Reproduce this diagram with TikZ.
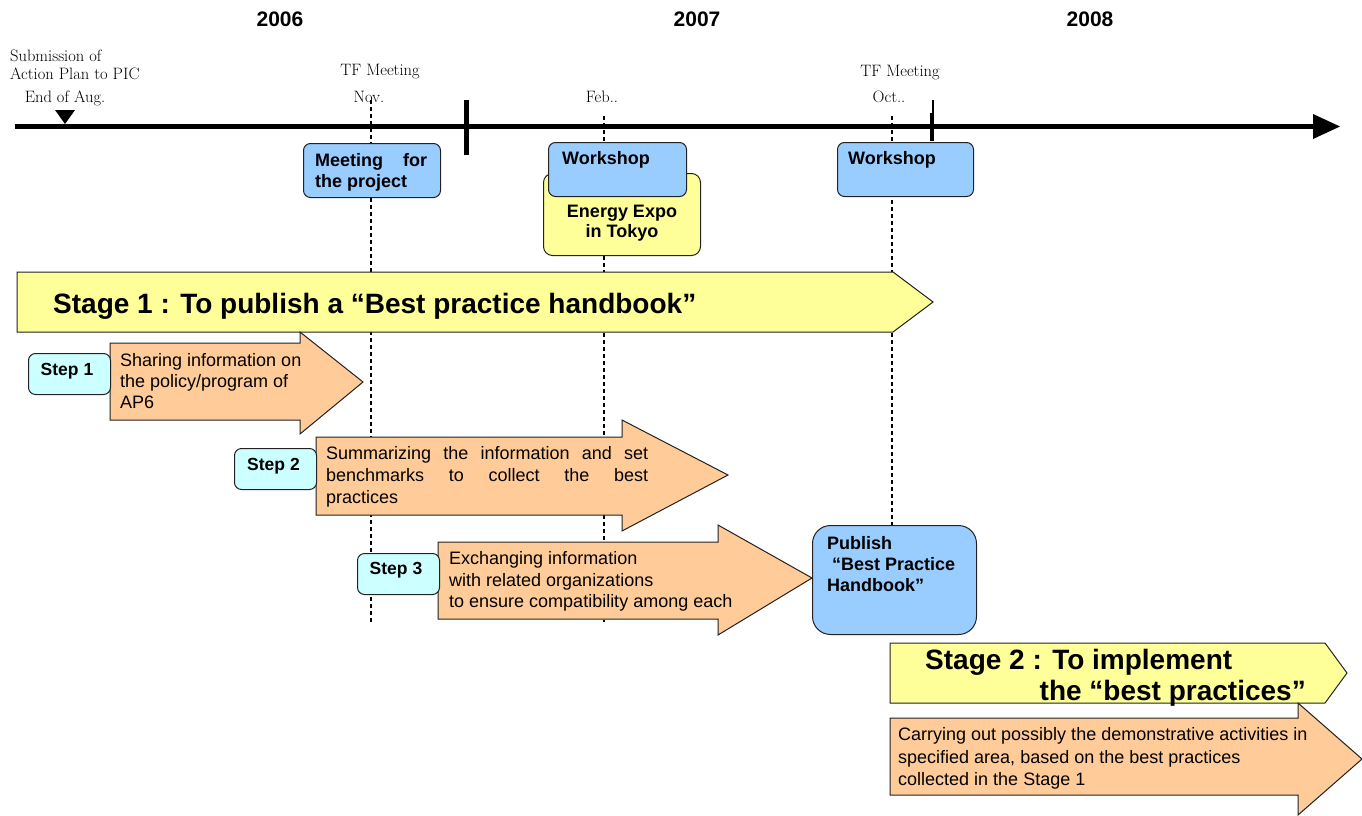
\documentclass[tikz,border=0pt]{standalone}
\usepackage{fontspec}
\newfontfamily\af{Liberation Sans}
\definecolor{bluebox}{HTML}{99CCFF}
\definecolor{yelbox}{HTML}{FFFF99}
\definecolor{orabox}{HTML}{FFCC99}
\definecolor{cyabox}{HTML}{CCFFFF}
\definecolor{edge}{HTML}{222222}
\begin{document}
\begin{tikzpicture}[x=1pt,y=-1pt,
  box/.style={draw=edge, line width=1pt, rounded corners=7pt, inner sep=0pt, anchor=north west},
  shp/.style={draw=edge, line width=1pt},
  tfline/.style={line width=2pt, dash pattern=on 4pt off 3pt},
  lbl/.style={inner sep=0pt, anchor=base, font=\fontsize{16.5}{19}\selectfont},
  lbll/.style={inner sep=0pt, anchor=base west, font=\fontsize{16.5}{19}\selectfont},
  yr/.style={inner sep=0pt, anchor=base, font=\af\bfseries\fontsize{21}{24}\selectfont},
  bt/.style={inner sep=0pt, anchor=base west, font=\af\bfseries\fontsize{18}{21}\selectfont},
  btc/.style={inner sep=0pt, anchor=base, font=\af\bfseries\fontsize{18}{21}\selectfont},
  nt/.style={inner sep=0pt, anchor=base west, font=\af\fontsize{18}{21}\selectfont},
  st/.style={inner sep=0pt, anchor=base west, font=\af\bfseries\fontsize{28}{32}\selectfont},
  stepl/.style={inner sep=0pt, anchor=base, font=\af\bfseries\fontsize{17.5}{20}\selectfont}]
\useasboundingbox (0,0) rectangle (1362,816);

% years
\node[yr] (y6) at (280,27) {2006};
\node[yr] (y7) at (697,27) {2007};
\node[yr] (y8) at (1090,27) {2008};

% serif labels
\node[lbll] (sub1) at (10,61.5) {Submission of};
\node[lbll] (sub2) at (10,79) {Action Plan to PIC};
\node[lbl] (aug) at (65,102) {End of Aug.};
\node[lbl] (tf1) at (380,75) {TF Meeting};
\node[lbl] (nov) at (369,102) {Nov.};
\node[lbl] (feb) at (602,102) {Feb..};
\node[lbl] (tf2) at (900,76) {TF Meeting};
\node[lbl] (oct) at (889,102) {Oct..};

% dashed month lines
\coordinate (novT) at (371,100); \coordinate (novB) at (371,622);
\coordinate (febT) at (604,116); \coordinate (febB) at (604,622);
\coordinate (octT) at (891.5,116); \coordinate (octB) at (891.5,525);
\draw[tfline] (novT) -- (novB);
\draw[tfline] (febT) -- (febB);
\draw[tfline] (octT) -- (octB);

% timeline
\coordinate (tlA) at (15,126.5); \coordinate (tlB) at (1316,126.5);
\draw[line width=5pt] (tlA) -- (tlB);
\fill (1313,114) -- (1340,126.5) -- (1313,139) -- cycle;
\fill (55,110) -- (75,110) -- (65,124) -- cycle;
\draw[line width=4.5pt] (466.5,100) -- (466.5,155);
\draw[line width=1.5pt] (933,100) -- (933,115);
\draw[line width=4.5pt] (932,113) -- (932,141);

% Stage 1 arrow
\draw[shp, fill=yelbox] (17,272) -- (893,272) -- (933,302) -- (893,332) -- (17,332) -- cycle;
\node[st] (st1) at (53,313) {Stage 1 : To publish a “Best practice handbook”};

% Step 1
\draw[shp, fill=orabox] (110,343) -- (300,343) -- (300,332) -- (363,382) -- (300,434) -- (300,420) -- (110,420) -- cycle;
\node[box, fill=cyabox, minimum width=82pt, minimum height=41pt] (s1) at (28,353) {};
\node[stepl] (s1t) at (67,375) {Step 1};
\node[nt] (a1) at (120,366) {Sharing information on};
\node[nt] (a2) at (120,387) {the policy/program of};
\node[nt] (a3) at (120,408) {AP6};

% Step 2
\draw[shp, fill=orabox] (316,437) -- (622,437) -- (622,420) -- (728,475) -- (622,531) -- (622,515) -- (316,515) -- cycle;
\node[box, fill=cyabox, minimum width=82pt, minimum height=41pt] (s2) at (234,448) {};
\node[stepl] (s2t) at (273.5,470) {Step 2};
\node[nt] (b1) at (326,459) {\hbox to 322pt{Summarizing\hfill the\hfill information\hfill and\hfill set}};
\node[nt] (b2) at (326,481) {\hbox to 322pt{benchmarks\hfill to\hfill collect\hfill the\hfill best}};
\node[nt] (b3) at (326,503) {practices};

% Step 3
\draw[shp, fill=orabox] (438,542) -- (718,542) -- (718,525) -- (812,578) -- (718,635) -- (718,619) -- (438,619) -- cycle;
\node[box, fill=cyabox, minimum width=82pt, minimum height=41pt] (s3) at (357,553) {};
\node[stepl] (s3t) at (396,574) {Step 3};
\node[nt] (c1) at (449,564) {Exchanging information};
\node[nt] (c2) at (449,586) {with related organizations};
\node[nt] (c3) at (449,607) {to ensure compatibility among each};

% top boxes
\node[box, fill=bluebox, minimum width=137pt, minimum height=54pt] (meet) at (303,143) {};
\node[bt] (m1) at (315,166) {\hbox to 112pt{Meeting\hfill for}};
\node[bt] (m2) at (315,187) {the project};

\node[box, fill=yelbox, minimum width=157pt, minimum height=82pt, rounded corners=9pt] (expo) at (543,173) {};
\node[box, fill=bluebox, minimum width=138pt, minimum height=54pt] (ws1) at (548,142) {};
\node[bt] (ws1t) at (562,164) {Workshop};
\node[btc] (e1) at (622,217) {Energy Expo};
\node[btc] (e2) at (622,237) {in Tokyo};

\node[box, fill=bluebox, minimum width=136pt, minimum height=54pt] (ws2) at (837,142) {};
\node[bt] (ws2t) at (848,164) {Workshop};

% Publish
\node[box, fill=bluebox, minimum width=164pt, minimum height=109pt, rounded corners=18pt] (pub) at (812,525) {};
\node[bt] (p1) at (827,549) {Publish};
\node[bt] (p2) at (832,570) {“Best Practice};
\node[bt] (p3) at (827,591) {Handbook”};

% Stage 2
\draw[shp, fill=yelbox] (890,643) -- (1325,643) -- (1347,673) -- (1325,703) -- (890,703) -- cycle;
\node[st] (st2a) at (925,669) {Stage 2 : To implement};
\node[st, anchor=base east] (st2b) at (1306,700) {the “best practices”};

\draw[shp, fill=orabox] (890,718) -- (1298,718) -- (1298,703) -- (1362,759) -- (1298,815) -- (1298,795) -- (890,795) -- cycle;
\node[nt] (d1) at (898,740) {Carrying out possibly the demonstrative activities in};
\node[nt] (d2) at (898,763) {specified area, based on the best practices};
\node[nt] (d3) at (898,785) {collected in the Stage 1};
\end{tikzpicture}
\end{document}
